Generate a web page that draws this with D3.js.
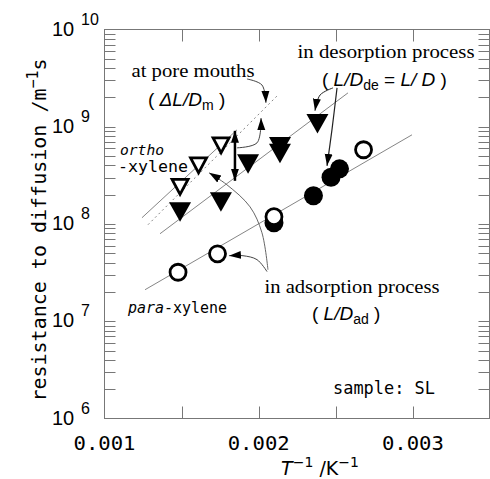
<!DOCTYPE html>
<html>
<head>
<meta charset="utf-8">
<script src="https://cdn.jsdelivr.net/npm/d3@7/dist/d3.min.js"></script>
<style>
  body { margin: 0; background: #fff; }
  text { fill: #000; }
</style>
</head>
<body>
<div id="chart"></div>
<script>
// values: T^-1 in 1/K, resistance in m^-1 s
const orthoAdsX = [0.00149, 0.00161, 0.001756];
const orthoAdsY = [2.44e8, 4.06e8, 6.52e8];
const orthoDesX = [0.00149, 0.001755, 0.001931, 0.002138, 0.002138, 0.002381];
const orthoDesY = [1.34e8, 1.69e8, 4.16e8, 6.28e8, 5.33e8, 1.08e9];
const paraAdsX = [0.001477, 0.001733, 0.002099, 0.00268];
const paraAdsY = [3.19e7, 4.94e7, 1.19e8, 5.8e8];
const paraDesX = [0.002099, 0.002355, 0.002469, 0.002524];
const paraDesY = [1.03e8, 1.95e8, 3.02e8, 3.69e8];

// fitted straight lines (two ends each)
const orthoAdsFitX = [0.001243, 0.001859], orthoAdsFitY = [1.16e8, 9.29e8];
const mouthFitX = [0.001282, 0.002125], mouthFitY = [9.83e7, 2.12e9];
const orthoDesFitX = [0.00136, 0.002579], orthoDesFitY = [7.94e7, 2.23e9];
const paraFitX = [0.001263, 0.002994], paraFitY = [2.11e7, 8.26e8];

// annotation arrows, in data units
const arrowPoreA = [[0.001924, 3.1e9], [0.002021, 2.69e9], [0.002047, 1.76e9]];
const arrowPoreB = [[0.001859, 6.07e8], [0.001989, 6.83e8], [0.002015, 1.23e9]];
const arrowSpan = [[0.001846, 2.78e8], [0.001846, 9.08e8]];
const arrowDesA = [[0.002482, 2.51e9], [0.002398, 2.12e9], [0.002365, 1.46e9]];
const arrowDesB = [[0.002508, 2.51e9], [0.002475, 9.3e8], [0.002443, 3.96e8]];
const arrowAdsA = [[0.002054, 3.24e7], [0.001989, 4.3e7], [0.001898, 4.72e7], [0.001807, 4.72e7]];
const arrowAdsB = [[0.00206, 3.39e7], [0.002021, 8.13e7], [0.001944, 1.5e8], [0.001794, 2.53e8], [0.001678, 3.36e8]];

const xTicks = [0.0015, 0.002, 0.0025, 0.003];
const xTickLabels = ["0.001", "0.002", "0.003"];
const yDecades = [6, 7, 8, 9, 10];

const width = 490, height = 479;
const mLeft = 104.5, mRight = 489.5, mTop = 29.5, mBottom = 418.5;

const svg = d3.select("#chart").append("svg")
  .attr("width", width)
  .attr("height", height);

const x = d3.scaleLinear().domain([0.001, 0.0035]).range([mLeft, mRight + 0.5]);
const y = d3.scaleLog().domain([1e6, 1e10]).range([mBottom, mTop]);

// arrowheads
const defs = svg.append("defs");
defs.append("marker")
  .attr("id", "head")
  .attr("viewBox", "0 -5 12 10")
  .attr("refX", 12).attr("refY", 0)
  .attr("markerUnits", "userSpaceOnUse")
  .attr("markerWidth", 12).attr("markerHeight", 10)
  .attr("orient", "auto")
  .append("path").attr("d", "M0,-4L12,0L0,4Z").attr("fill", "#000");
defs.append("marker")
  .attr("id", "headStart")
  .attr("viewBox", "0 -5 12 10")
  .attr("refX", 0).attr("refY", 0)
  .attr("markerUnits", "userSpaceOnUse")
  .attr("markerWidth", 12).attr("markerHeight", 10)
  .attr("orient", "auto")
  .append("path").attr("d", "M12,-4L0,0L12,4Z").attr("fill", "#000");

// frame
svg.append("rect")
  .attr("x", mLeft).attr("y", mTop)
  .attr("width", mRight - mLeft).attr("height", mBottom - mTop)
  .attr("fill", "none").attr("stroke", "#777").attr("stroke-width", 1);

// x ticks, inward top and bottom
const ticks = svg.append("g").attr("stroke", "#777").attr("stroke-width", 1);
xTicks.forEach(t => {
  const px = Math.round(x(t)) + 0.5;
  ticks.append("line").attr("x1", px).attr("x2", px).attr("y1", mBottom).attr("y2", mBottom - 12);
  ticks.append("line").attr("x1", px).attr("x2", px).attr("y1", mTop).attr("y2", mTop + 12);
});

// y ticks (log), inward left and right
y.ticks().forEach(t => {
  const py = Math.round(y(t)) + 0.5;
  if (py <= mTop + 1 || py >= mBottom - 1) return;
  ticks.append("line").attr("x1", mLeft).attr("x2", mLeft + 11).attr("y1", py).attr("y2", py);
  ticks.append("line").attr("x1", mRight).attr("x2", mRight - 11).attr("y1", py).attr("y2", py);
});

// x tick labels
xTickLabels.forEach(s => {
  svg.append("text")
    .attr("x", x(+s)).attr("y", 450)
    .attr("text-anchor", "middle")
    .style("font-family", "'DejaVu Sans Mono', monospace")
    .style("font-size", "20px")
    .attr("textLength", 62).attr("lengthAdjust", "spacingAndGlyphs")
    .text(s);
});

// y tick labels: 10^n
yDecades.forEach(d => {
  const py = y(Math.pow(10, d));
  const t = svg.append("text")
    .attr("x", 52).attr("y", py + 6)
    .style("font-family", "'Liberation Sans', Arial, sans-serif")
    .style("font-size", "20px");
  t.append("tspan").text("10");
  t.append("tspan").attr("x", 81).attr("y", py - 5)
    .style("font-size", "16px").text(d);
});

// axis titles
const xt = svg.append("text")
  .attr("x", 320).attr("y", 475)
  .attr("text-anchor", "middle")
  .style("font-family", "'DejaVu Sans', sans-serif")
  .style("font-size", "19px");
xt.append("tspan").style("font-style", "italic").text("T");
xt.append("tspan").attr("dy", -8).style("font-size", "14px").text("\u22121");
xt.append("tspan").attr("dy", 8).text(" /K");
xt.append("tspan").attr("dy", -8).style("font-size", "14px").text("\u22121");

const yt = svg.append("text")
  .attr("transform", "translate(46,230) rotate(-90)")
  .attr("text-anchor", "middle")
  .style("font-family", "'DejaVu Sans Mono', monospace")
  .style("font-size", "20px");
yt.append("tspan").text("resistance to diffusion /m");
yt.append("tspan").attr("dy", -8).style("font-size", "15px").text("\u22121");
yt.append("tspan").attr("dy", 8).text("s");

// fitted lines
const fit = (xs, ys, dash) => {
  svg.append("line")
    .attr("x1", x(xs[0])).attr("y1", y(ys[0]))
    .attr("x2", x(xs[1])).attr("y2", y(ys[1]))
    .attr("stroke", "#777").attr("stroke-width", 0.9)
    .attr("stroke-dasharray", dash || null);
};
fit(orthoAdsFitX, orthoAdsFitY);
fit(mouthFitX, mouthFitY, "2,3");
fit(orthoDesFitX, orthoDesFitY);
fit(paraFitX, paraFitY);

// annotation arrows
const curve = d3.line().x(d => x(d[0])).y(d => y(d[1])).curve(d3.curveCatmullRom.alpha(0.5));
const arrow = (pts, w, color) => svg.append("path")
  .attr("d", curve(pts))
  .attr("fill", "none").attr("stroke", color || "#444").attr("stroke-width", w || 1)
  .attr("marker-end", "url(#head)");
arrow(arrowPoreA);
arrow(arrowPoreB);
arrow(arrowDesA, 1, "#222");
arrow(arrowDesB, 1.2, "#222");
arrow(arrowAdsA);
arrow(arrowAdsB, 1, "#666");
arrow(arrowSpan, 2.5, "#000").attr("marker-start", "url(#headStart)");

// markers
const tri = (big) => big ? "M-11,-9.5L11,-9.5L0,10Z" : "M-8,-7L8,-7L0,8Z";
const pts = (xs, ys) => xs.map((v, i) => [v, ys[i]]);

svg.append("g").selectAll("path").data(pts(orthoDesX, orthoDesY)).join("path")
  .attr("transform", d => `translate(${x(d[0])},${y(d[1])})`)
  .attr("d", tri(true)).attr("fill", "#000");

svg.append("g").selectAll("path").data(pts(orthoAdsX, orthoAdsY)).join("path")
  .attr("transform", d => `translate(${x(d[0])},${y(d[1])})`)
  .attr("d", tri(false)).attr("fill", "#fff")
  .attr("stroke", "#000").attr("stroke-width", 2.8).attr("stroke-linejoin", "miter");

svg.append("g").selectAll("circle").data(pts(paraDesX, paraDesY)).join("circle")
  .attr("cx", d => x(d[0])).attr("cy", d => y(d[1])).attr("r", 9.5)
  .attr("fill", "#000");

svg.append("g").selectAll("circle").data(pts(paraAdsX, paraAdsY)).join("circle")
  .attr("cx", d => x(d[0])).attr("cy", d => y(d[1])).attr("r", 8)
  .attr("fill", "#fff").attr("stroke", "#000").attr("stroke-width", 2.8);

// labels
const serif = "'Liberation Serif', 'Times New Roman', serif";
const sans = "'Liberation Sans', Arial, sans-serif";
const mono = "'DejaVu Sans Mono', monospace";

svg.append("text").attr("x", 193).attr("y", 77).attr("text-anchor", "middle")
  .style("font-family", serif).style("font-size", "19px")
  .attr("textLength", 123).attr("lengthAdjust", "spacingAndGlyphs")
  .text("at pore mouths");

let t = svg.append("text").attr("x", 148).attr("y", 106)
  .style("font-family", sans).style("font-size", "19px");
t.append("tspan").text("(  ");
t.append("tspan").style("font-style", "italic").text("\u0394L/D");
t.append("tspan").attr("dy", 4).style("font-size", "14px").text("m");
t.append("tspan").attr("dy", -4).text("  )");

svg.append("text").attr("x", 386).attr("y", 58).attr("text-anchor", "middle")
  .style("font-family", serif).style("font-size", "19px")
  .attr("textLength", 177).attr("lengthAdjust", "spacingAndGlyphs")
  .text("in desorption process");

t = svg.append("text").attr("x", 322).attr("y", 86)
  .style("font-family", sans).style("font-size", "19px");
t.append("tspan").text("( ");
t.append("tspan").style("font-style", "italic").text("L/D");
t.append("tspan").attr("dy", 4).style("font-size", "14px").text("de");
t.append("tspan").attr("dy", -4).text(" = ");
t.append("tspan").style("font-style", "italic").text("L/ D");
t.append("tspan").text(" )");

svg.append("text").attr("x", 352).attr("y", 293).attr("text-anchor", "middle")
  .style("font-family", serif).style("font-size", "19px")
  .attr("textLength", 175).attr("lengthAdjust", "spacingAndGlyphs")
  .text("in adsorption process");

t = svg.append("text").attr("x", 312).attr("y", 320)
  .style("font-family", sans).style("font-size", "19px");
t.append("tspan").text("( ");
t.append("tspan").style("font-style", "italic").text("L/D");
t.append("tspan").attr("dy", 4).style("font-size", "14px").text("ad");
t.append("tspan").attr("dy", -4).text(" )");

svg.append("text").attr("x", 120).attr("y", 155)
  .style("font-family", mono).style("font-size", "14px").style("font-style", "italic")
  .attr("textLength", 44).attr("lengthAdjust", "spacingAndGlyphs")
  .text("ortho");
svg.append("text").attr("x", 118).attr("y", 172)
  .style("font-family", mono).style("font-size", "15px")
  .attr("textLength", 70).attr("lengthAdjust", "spacingAndGlyphs")
  .text("-xylene");

t = svg.append("text").attr("x", 128).attr("y", 313)
  .style("font-family", mono).style("font-size", "16px")
  .attr("textLength", 99).attr("lengthAdjust", "spacingAndGlyphs");
t.append("tspan").style("font-style", "italic").text("para");
t.append("tspan").text("-xylene");

svg.append("text").attr("x", 333).attr("y", 394)
  .style("font-family", mono).style("font-size", "17px")
  .attr("textLength", 102).attr("lengthAdjust", "spacingAndGlyphs")
  .text("sample: SL");
</script>
</body>
</html>
